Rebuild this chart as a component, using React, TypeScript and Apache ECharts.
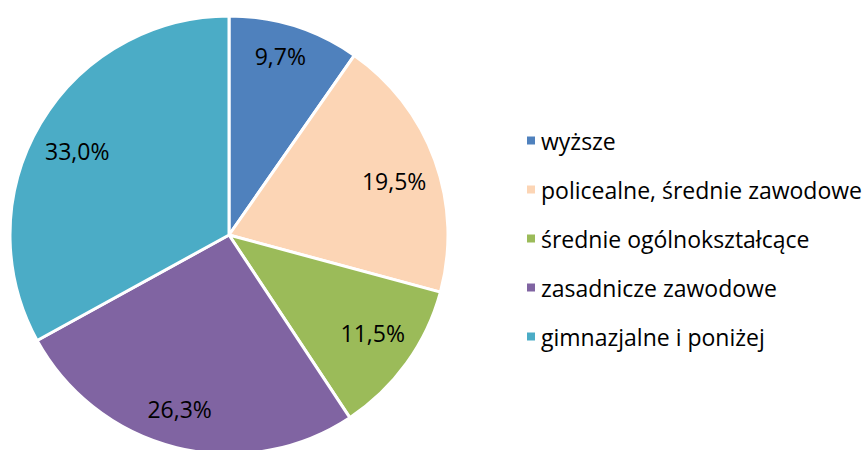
import React, { useEffect, useRef } from "react";
import * as echarts from "echarts";

const categories = [
  "wyższe",
  "policealne, średnie zawodowe",
  "średnie ogólnokształcące",
  "zasadnicze zawodowe",
  "gimnazjalne i poniżej",
];
const values = [9.7, 19.5, 11.5, 26.3, 33.0];
const colors = ["#4F81BD", "#FCD5B5", "#9BBB59", "#8064A2", "#4BACC6"];
// small label nudges (style only)
const labelNudges = [
  [-3, -6],
  [-5, 8],
  [-3, -8],
  [-6, -2],
  [4, 8],
];

const FONT = "'Open Sans', Lato, sans-serif";

export default function App() {
  const ref = useRef<HTMLDivElement>(null);
  useEffect(() => {
    document.body.style.margin = "0";
    const chart = echarts.init(ref.current!, undefined, { renderer: "svg" });
    const data = categories.map((name, i) => ({
      name,
      value: values[i],
      itemStyle: { color: colors[i] },
    }));
    chart.setOption({
      animation: false,
      backgroundColor: "#ffffff",
      legend: {
        orient: "vertical",
        left: 520,
        top: 124,
        itemWidth: 10,
        itemHeight: 10,
        itemGap: 26,
        icon: "rect",
        data: categories,
        textStyle: {
          fontFamily: FONT,
          fontSize: 23,
          color: "#000000",
          lineHeight: 20,
          padding: [0, 0, 0, 0],
        },
      },
      series: [
        {
          type: "pie",
          center: [229, 235],
          radius: [0, 219],
          startAngle: 90,
          clockwise: true,
          silent: true,
          label: { show: false },
          labelLine: { show: false },
          itemStyle: { borderColor: "#ffffff", borderWidth: 3 },
          data,
        },
        {
          type: "pie",
          center: [229, 235],
          radius: [137, 219],
          startAngle: 90,
          clockwise: true,
          silent: true,
          labelLine: { show: false },
          itemStyle: { color: "rgba(0,0,0,0)", borderWidth: 0 },
          label: {
            show: true,
            position: "inside",
            fontFamily: FONT,
            fontSize: 23,
            color: "#000000",
            formatter: (p: any) => p.value.toFixed(1).replace(".", ",") + "%",
          },
          data: categories.map((name, i) => ({
            name,
            value: values[i],
            itemStyle: { color: "rgba(0,0,0,0)" },
            label: { offset: labelNudges[i] },
          })),
        },
      ],
    });
    return () => chart.dispose();
  }, []);
  return <div ref={ref} style={{ width: 867, height: 450 }} />;
}
